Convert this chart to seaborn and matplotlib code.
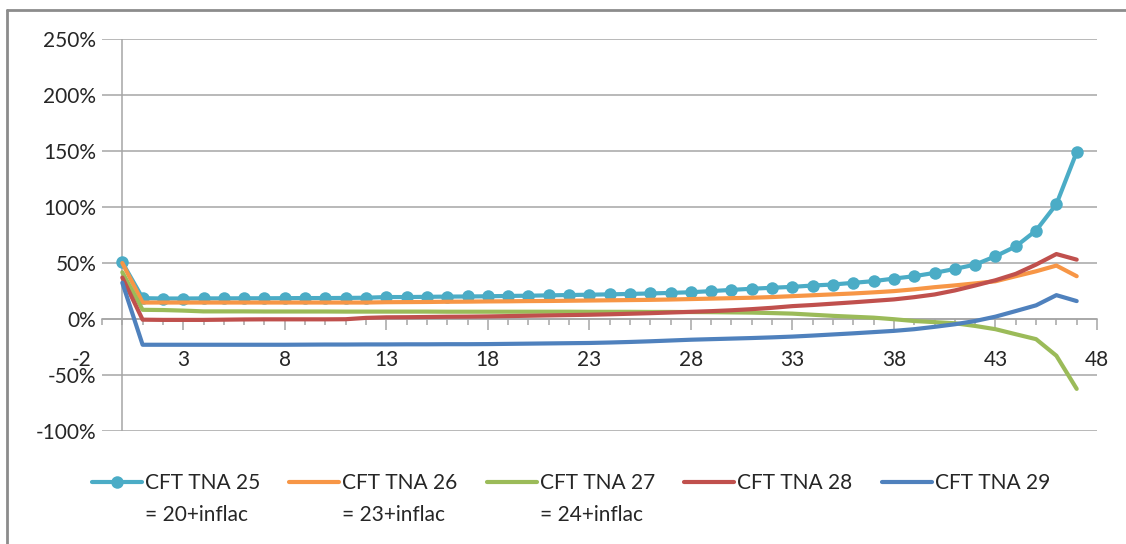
import numpy as np
import pandas as pd
import matplotlib
matplotlib.use('Agg')
import matplotlib.pyplot as plt
import seaborn as sns
from matplotlib.lines import Line2D
from matplotlib.ticker import MultipleLocator, FixedLocator, FuncFormatter

# periods 0..47
periods = list(range(48))

tna25 = [50.5, 18.6, 18.3, 18.3, 18.4, 18.4, 18.5, 18.5, 18.6, 18.7, 18.7, 18.8,
         19.0, 19.6, 19.6, 19.8, 20.0, 20.1, 20.3, 20.6, 20.8, 21.1, 21.4, 21.7,
         22.0, 22.4, 22.8, 23.3, 23.9, 24.9, 26.0, 27.0, 27.9, 28.7, 29.9, 30.8,
         32.3, 33.8, 36.1, 38.2, 41.2, 44.7, 48.6, 56.0, 64.8, 79.0, 102.5, 149.0]
tna26 = [50.0, 14.7, 14.7, 14.7, 14.7, 14.7, 14.7, 14.7, 14.7, 14.7, 14.7, 14.7,
         14.7, 15.0, 15.1, 15.2, 15.4, 15.5, 15.7, 15.8, 16.0, 16.1, 16.3, 16.5,
         16.7, 16.9, 17.1, 17.4, 17.8, 18.2, 18.6, 19.0, 19.6, 20.4, 21.2, 22.0,
         22.8, 23.8, 24.9, 26.5, 28.4, 30.0, 31.8, 33.7, 38.2, 42.6, 47.7, 38.2]
tna27 = [41.7, 8.2, 8.0, 7.5, 6.8, 6.8, 6.8, 6.7, 6.7, 6.7, 6.7, 6.6,
         6.6, 6.6, 6.6, 6.6, 6.5, 6.5, 6.5, 6.5, 6.5, 6.5, 6.5, 6.4,
         6.4, 6.4, 6.3, 6.3, 6.2, 6.1, 5.9, 5.7, 5.3, 4.8, 3.8, 2.8,
         2.0, 1.2, -0.2, -1.8, -2.8, -3.8, -6.2, -9.1, -13.6, -18.0, -32.8, -62.4]
tna28 = [37.0, -0.6, -0.8, -0.8, -0.8, -0.6, -0.4, -0.3, -0.3, -0.3, -0.3, -0.2,
         1.0, 1.5, 1.6, 1.8, 2.0, 2.1, 2.3, 2.6, 2.9, 3.2, 3.5, 3.8,
         4.2, 4.7, 5.2, 5.8, 6.4, 7.0, 7.8, 8.8, 10.0, 11.5, 12.5, 13.7,
         14.9, 16.2, 17.5, 19.5, 21.9, 25.5, 29.9, 34.6, 40.3, 48.6, 58.0, 53.0]
tna29 = [32.4, -23.0, -23.0, -23.0, -23.0, -23.0, -23.0, -23.0, -23.0, -22.9, -22.8, -22.8,
         -22.7, -22.7, -22.6, -22.6, -22.5, -22.5, -22.4, -22.2, -22.0, -21.8, -21.6, -21.4,
         -21.0, -20.5, -19.9, -19.2, -18.5, -18.0, -17.5, -17.0, -16.4, -15.7, -14.8, -13.8,
         -12.8, -11.7, -10.6, -9.1, -7.0, -4.7, -1.8, 2.1, 7.1, 12.2, 21.3, 16.0]

series = [tna25, tna26, tna27, tna28, tna29]
labels = ['CFT TNA 25', 'CFT TNA 26', 'CFT TNA 27', 'CFT TNA 28', 'CFT TNA 29']
sublabels = ['= 20+inflac', '= 23+inflac', '= 24+inflac', '', '']
colors = ['#4BACC6', '#F79646', '#9BBB59', '#C0504D', '#4F81BD']
xticks_major = [3, 8, 13, 18, 23, 28, 33, 38, 43, 48]
yticks = [-100, -50, 0, 50, 100, 150, 200, 250]

sns.set_theme(style='white')
plt.rcParams['font.family'] = ['Lato', 'DejaVu Sans']
FS = 15
TXT = '#262626'
GRID = '#a6a6a6'

W, H = 1126, 544
fig = plt.figure(figsize=(W / 100, H / 100), dpi=100)
ax = fig.add_axes([102 / W, 1 - 431 / H, (1097 - 102) / W, (431 - 39) / H])

for vals, lab, col in zip(series, labels, colors):
    df = pd.DataFrame({'period': periods, 'value': vals})
    kw = dict(marker='o', markersize=9, markeredgewidth=0) if lab == 'CFT TNA 25' else {}
    sns.lineplot(data=df, x='period', y='value', color=col, linewidth=3,
                 label=lab, legend=False, ax=ax, zorder=3, **kw)

ax.set_xlim(-1, 48)
ax.set_ylim(-100, 250)
ax.set_xlabel('')
ax.set_ylabel('')

for s in ['top', 'right', 'left']:
    ax.spines[s].set_visible(False)
ax.spines['bottom'].set_position(('data', 0))
ax.spines['bottom'].set_color(GRID)
ax.spines['bottom'].set_linewidth(1.1)
ax.spines['bottom'].set_zorder(2)
ax.axvline(0, color=GRID, lw=1.1, zorder=2)

ax.yaxis.set_major_locator(FixedLocator(yticks))
ax.yaxis.set_major_formatter(FuncFormatter(lambda v, p: f'{v:.0f}%'))
ax.yaxis.grid(True, color=GRID, lw=1.1, zorder=1)
ax.tick_params(axis='y', length=0, pad=4, labelsize=FS, labelcolor=TXT)

ax.xaxis.set_major_locator(FixedLocator(xticks_major))
ax.xaxis.set_minor_locator(MultipleLocator(1))
ax.tick_params(axis='x', which='major', direction='out', length=8, width=1.1,
               color=GRID, pad=14, labelsize=FS, labelcolor=TXT, bottom=True)
ax.tick_params(axis='x', which='minor', direction='out', length=4, width=1.1,
               color=GRID, bottom=True)
# stray axis label left of the plot area (overlaps -50% as in the source)
ax.annotate('-2', xy=(-2, 0), xytext=(0, -8 - 14), textcoords='offset points',
            ha='center', va='top', fontsize=FS, color=TXT, annotation_clip=False)

handles, labs = ax.get_legend_handles_labels()
leg = fig.legend(handles, labs, ncol=5, loc='center', bbox_to_anchor=(0.507, 1 - 483 / H),
                 frameon=False, fontsize=FS, handlelength=2.4, handletextpad=0.15,
                 columnspacing=1.4, labelcolor=TXT)
fig.canvas.draw()
for t, sub in zip(leg.get_texts(), sublabels):
    if sub:
        bb = t.get_window_extent()
        fig.text(bb.x0 / W, (bb.y0 + bb.y1) / 2 / H - 32 / H, sub, ha='left', va='center',
                 fontsize=FS, color=TXT)

# chart area border (only left and top visible)
fig.add_artist(Line2D([7 / W, 7 / W], [0, 1 - 10 / H], transform=fig.transFigure,
                      color='#8c8c8c', lw=2))
fig.add_artist(Line2D([7 / W, 1], [1 - 10 / H, 1 - 10 / H], transform=fig.transFigure,
                      color='#8c8c8c', lw=2))

fig.savefig('out.png', dpi=100)
